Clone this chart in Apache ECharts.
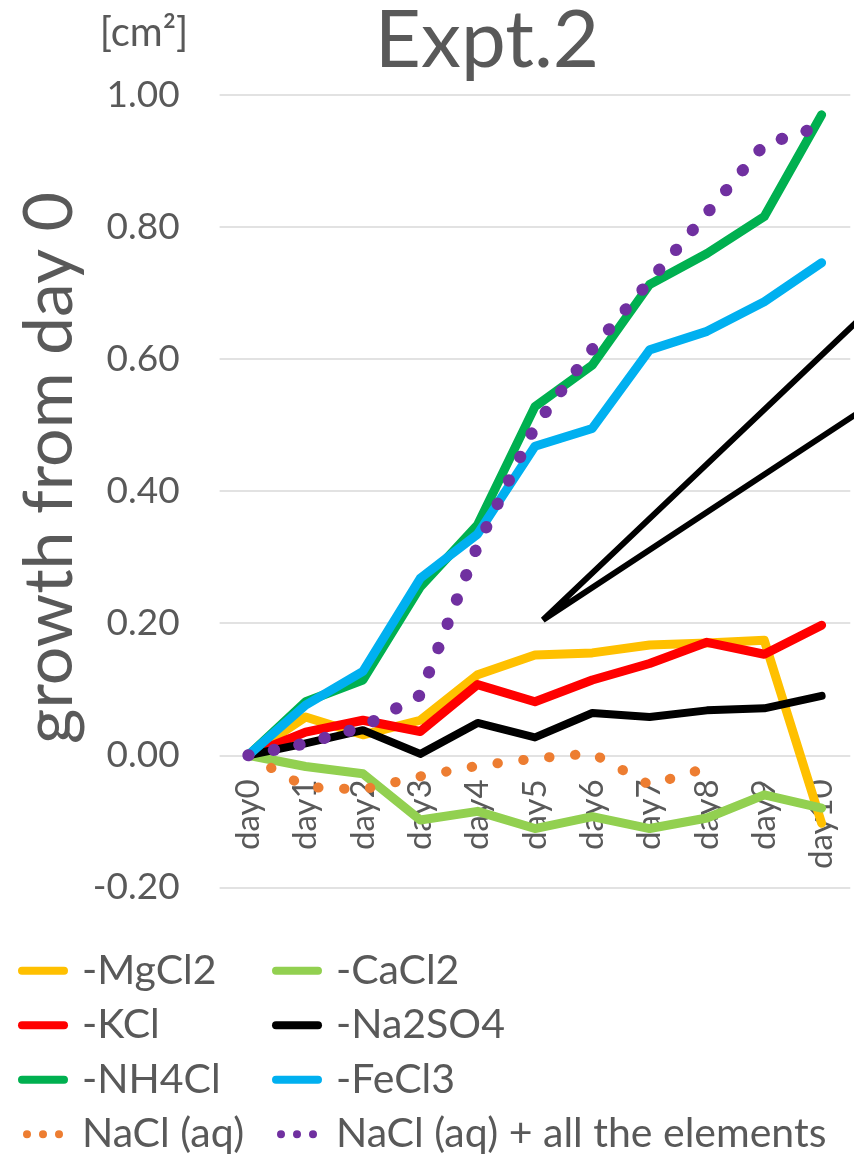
<!DOCTYPE html>
<html>
<head>
<meta charset="utf-8">
<script src="https://cdn.jsdelivr.net/npm/echarts@6/dist/echarts.min.js"></script>
<style>
  html, body { margin: 0; padding: 0; background: #ffffff; }
  #chart { width: 860px; height: 1161px; }
</style>
</head>
<body>
<div id="chart"></div>
<script>
const categories = ['day0','day1','day2','day3','day4','day5','day6','day7','day8','day9','day10'];
const yTicks = [-0.2, 0, 0.2, 0.4, 0.6, 0.8, 1.0];

const mgcl2   = [0, 0.058, 0.031, 0.053, 0.122, 0.152, 0.155, 0.167, 0.170, 0.174, -0.103];
const cacl2   = [0, -0.017, -0.028, -0.098, -0.085, -0.111, -0.093, -0.111, -0.095, -0.060, -0.080];
const kcl     = [0, 0.035, 0.053, 0.036, 0.107, 0.081, 0.114, 0.139, 0.171, 0.153, 0.197];
const na2so4  = [0, 0.018, 0.038, 0.002, 0.049, 0.027, 0.064, 0.058, 0.068, 0.071, 0.090];
const nh4cl   = [0, 0.081, 0.114, 0.255, 0.349, 0.528, 0.591, 0.713, 0.760, 0.816, 0.970];
const fecl3   = [0, 0.076, 0.127, 0.268, 0.335, 0.468, 0.495, 0.614, 0.642, 0.687, 0.746];
const naclAq  = [0, -0.048, -0.052, -0.032, -0.016, -0.005, 0.003, -0.045, -0.019, null, null];
const naclAll = [0, 0.018, 0.043, 0.091, 0.318, 0.498, 0.615, 0.718, 0.821, 0.925, 0.953];

// decorative "<"-shaped annotation, in (day index, value) coordinates
const annotation = [[10.8, 0.672], [5.14, 0.205], [10.8, 0.528]];

const names = ['-MgCl2', '-CaCl2', '-KCl', '-Na2SO4', '-NH4Cl', '-FeCl3', 'NaCl (aq)', 'NaCl (aq) + all the elements'];
const colors = ['#FFC000', '#92D050', '#FF0000', '#000000', '#00B050', '#00B0F0', '#ED7D31', '#7030A0'];
const dataSets = [mgcl2, cacl2, kcl, na2so4, nh4cl, fecl3, naclAq, naclAll];
const dotted = [false, false, false, false, false, false, true, true];
const widths = [9, 9, 9, 8, 9, 9, 10, 12];

const FONT = 'Lato, "Noto Sans", sans-serif';
const GREY = '#595959';
const solidIcon = 'path://M4,0H46A4,4,0,0,1,46,8H4A4,4,0,0,1,4,0Z';
const dotIcon = 'path://M0,4A4,4,0,1,0,8,4A4,4,0,1,0,0,4ZM16,4A4,4,0,1,0,24,4A4,4,0,1,0,16,4ZM32,4A4,4,0,1,0,40,4A4,4,0,1,0,32,4Z';

const chart = echarts.init(document.getElementById('chart'), null, { renderer: 'canvas' });

const series = names.map((n, i) => ({
  name: n,
  type: 'line',
  data: dataSets[i],
  color: colors[i],
  showSymbol: false,
  symbol: 'none',
  connectNulls: false,
  silent: true,
  lineStyle: {
    color: colors[i],
    width: widths[i],
    type: dotted[i] ? [0.5, 25.5] : 'solid',
    cap: 'round',
    join: 'round'
  },
  z: 2 + i
}));

series.push({
  name: 'annotation',
  type: 'line',
  xAxisIndex: 1,
  data: annotation,
  showSymbol: false,
  symbol: 'none',
  clip: false,
  silent: true,
  lineStyle: { color: '#000000', width: 6, join: 'miter', cap: 'butt' },
  z: 20
});

function legendItems(idx) {
  return idx.map(i => ({ name: names[i], icon: dotted[i] ? dotIcon : solidIcon }));
}

const legendCommon = {
  orient: 'vertical',
  top: 945.7,
  itemWidth: 50,
  itemHeight: 8,
  itemGap: 4.5,
  padding: 0,
  selectedMode: false,
  itemStyle: { borderWidth: 0 },
  textStyle: {
    fontFamily: FONT,
    fontSize: 41,
    color: GREY,
    lineHeight: 50,
    padding: [0, 0, 0, 9]
  }
};

// distance from the bottom of the plot (-0.20) up to the 0.00 line, where the
// category labels hang in the reference
const yMin = yTicks[0];
const yMax = yTicks[yTicks.length - 1];
const plotTop = 95, plotBottom = 887.3;
const zeroOffset = (0 - yMin) / (yMax - yMin) * (plotBottom - plotTop);

const option = {
  backgroundColor: '#ffffff',
  animation: false,
  grid: { left: 219.6, right: 9.7, top: plotTop, bottom: 1161 - plotBottom, containLabel: false },
  xAxis: [{
    type: 'category',
    data: categories,
    boundaryGap: true,
    position: 'bottom',
    axisLine: { show: false, onZero: false },
    axisTick: { show: false },
    axisLabel: {
      rotate: 90,
      margin: 24 - zeroOffset,
      fontFamily: FONT,
      fontSize: 33,
      color: GREY,
      interval: 0,
      hideOverlap: false
    },
    splitLine: { show: false }
  }, {
    type: 'value',
    min: -0.5,
    max: 10.5,
    position: 'top',
    show: false,
    axisLine: { onZero: false }
  }],
  yAxis: {
    type: 'value',
    min: yMin,
    max: yMax,
    interval: 0.2,
    axisLine: { show: false, onZero: false },
    axisTick: { show: false },
    axisLabel: {
      margin: 40,
      fontFamily: FONT,
      fontSize: 37,
      color: GREY,
      formatter: v => v.toFixed(2)
    },
    splitLine: { show: true, lineStyle: { color: '#D9D9D9', width: 1.5 } }
  },
  legend: [
    Object.assign({}, legendCommon, { left: 18, data: legendItems([0, 2, 4, 6]) }),
    Object.assign({}, legendCommon, { left: 272, data: legendItems([1, 3, 5, 7]) })
  ],
  graphic: [
    {
      type: 'text', x: 487, y: 41, silent: true,
      style: { text: 'Expt.2', font: '80px ' + FONT, fill: GREY, align: 'center', verticalAlign: 'middle' }
    },
    {
      type: 'text', x: 144, y: 33, silent: true,
      style: { text: '[cm²]', font: '40px ' + FONT, fill: GREY, align: 'center', verticalAlign: 'middle' }
    },
    {
      type: 'text', x: 50, y: 468, rotation: Math.PI / 2, silent: true,
      style: { text: 'growth from day 0', font: '68px ' + FONT, fill: GREY, align: 'center', verticalAlign: 'middle' }
    }
  ],
  series: series
};

chart.setOption(option);
</script>
</body>
</html>
